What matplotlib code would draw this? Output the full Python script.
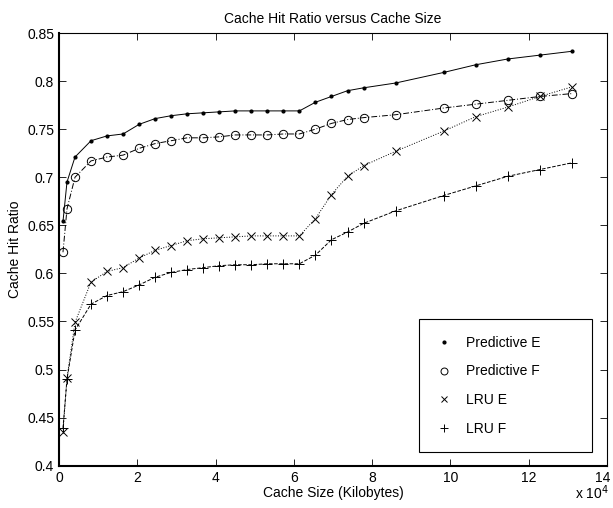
import matplotlib
matplotlib.use("Agg")
from matplotlib import pyplot as plt
from matplotlib.lines import Line2D
from matplotlib.transforms import ScaledTranslation

plt.rcParams['font.family'] = ['Liberation Sans', 'DejaVu Sans']
plt.rcParams['font.size'] = 10

# cache size in kilobytes
cache_kb = [1024, 2048] + [4096 * k for k in range(1, 20)] + [4096 * k for k in (21, 24, 26, 28, 30, 32)]

pred_e = [0.654, 0.695, 0.721, 0.738, 0.743, 0.745, 0.755, 0.761, 0.764, 0.766,
          0.767, 0.768, 0.769, 0.769, 0.769, 0.769, 0.769, 0.778, 0.784, 0.790,
          0.793, 0.798, 0.809, 0.817, 0.823, 0.827, 0.831]
pred_f = [0.622, 0.667, 0.700, 0.717, 0.721, 0.723, 0.730, 0.735, 0.738, 0.741,
          0.741, 0.742, 0.744, 0.744, 0.744, 0.745, 0.745, 0.750, 0.756, 0.760,
          0.762, 0.765, 0.772, 0.776, 0.780, 0.784, 0.787]
lru_e = [0.435, 0.491, 0.549, 0.591, 0.602, 0.606, 0.616, 0.624, 0.629, 0.634,
         0.636, 0.637, 0.638, 0.639, 0.639, 0.639, 0.639, 0.657, 0.682, 0.701,
         0.712, 0.727, 0.748, 0.763, 0.773, 0.784, 0.794]
lru_f = [0.439, 0.490, 0.541, 0.568, 0.577, 0.581, 0.588, 0.596, 0.601, 0.604,
         0.606, 0.608, 0.609, 0.609, 0.610, 0.610, 0.610, 0.619, 0.635, 0.643,
         0.652, 0.665, 0.681, 0.691, 0.701, 0.708, 0.715]

x = [v / 1e4 for v in cache_kb]

fig = plt.figure(figsize=(6.13, 5.08), dpi=100)
ax = fig.add_axes([0.0962, 0.0833, 0.8938, 0.8517])

lw = 0.7
ax.plot(x, pred_e, color='k', lw=lw, ls='-', marker='.', ms=4)
ax.plot(x, pred_f, color='k', lw=lw, ls=(0, (6, 2, 1, 2)), marker='o', ms=6, mfc='none', mew=0.7)
ax.plot(x, lru_e, color='k', lw=lw, ls=':', marker='x', ms=6, mew=0.7)
ax.plot(x, lru_f, color='k', lw=lw, ls='--', marker='+', ms=7, mew=0.7)

ax.set_xlim(0, 14)
ax.set_ylim(0.4, 0.85)
ax.set_xticks(range(0, 15, 2))
ax.set_yticks([0.4, 0.45, 0.5, 0.55, 0.6, 0.65, 0.7, 0.75, 0.8, 0.85])
ax.set_yticklabels(['0.4', '0.45', '0.5', '0.55', '0.6', '0.65', '0.7', '0.75', '0.8', '0.85'])
ax.tick_params(direction='in', top=True, right=True, length=5, width=0.6, labelsize=10)
for s in ax.spines.values():
    s.set_linewidth(0.8)
ax.spines['left'].set_linewidth(1.5)
ax.spines['bottom'].set_linewidth(1.5)

# nudge the last x tick label so it stays inside the figure
last = ax.get_xticklabels()[-1]
last.set_transform(last.get_transform() + ScaledTranslation(-4 / 100, 0, fig.dpi_scale_trans))

ax.set_title("Cache Hit Ratio versus Cache Size", fontsize=10, pad=7)
ax.set_xlabel("Cache Size (Kilobytes)", fontsize=10, labelpad=1)
ax.set_ylabel("Cache Hit Ratio", fontsize=10, labelpad=4)
fig.text(0.938, 0.012, r"x 10$^4$", fontsize=10, ha='left', va='bottom')

handles = [
    Line2D([], [], color='k', ls='none', marker='.', ms=4),
    Line2D([], [], color='k', ls='none', marker='o', ms=5, mfc='none', mew=0.7),
    Line2D([], [], color='k', ls='none', marker='x', ms=5, mew=0.7),
    Line2D([], [], color='k', ls='none', marker='+', ms=6, mew=0.7),
]
labels = ["Predictive E", "Predictive F", "LRU E", "LRU F"]
leg = ax.legend(handles, labels, loc='lower left', bbox_to_anchor=(0.657, 0.031, 0.315, 0.327),
                mode='expand', fancybox=False, edgecolor='k', framealpha=1,
                borderaxespad=0, labelspacing=1.05, handlelength=1.2, handletextpad=1.0,
                borderpad=1.2, fontsize=10)
leg.get_frame().set_linewidth(0.8)

fig.savefig("out.png", dpi=100)
